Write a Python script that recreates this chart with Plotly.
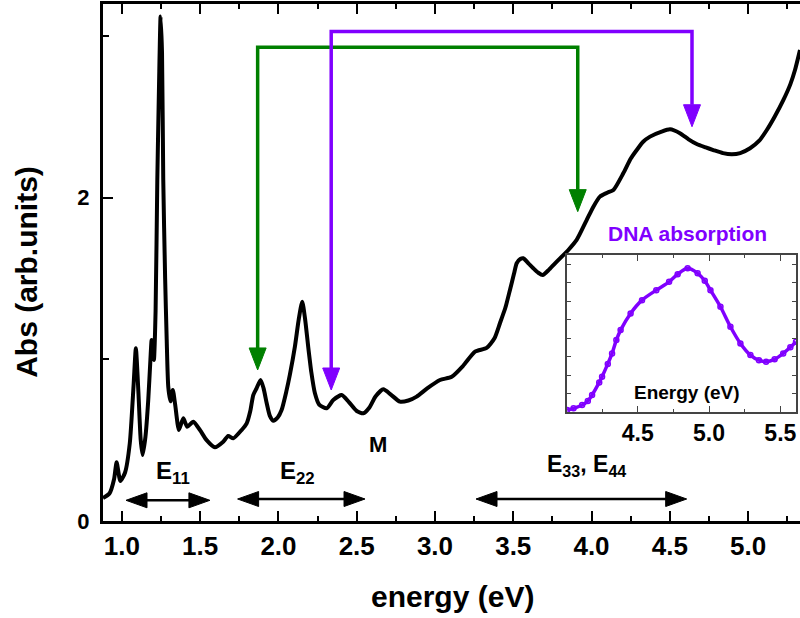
import plotly.graph_objects as go

# ---------------- data ----------------
energy = [0.879, 0.92, 0.95, 0.966, 0.99, 1.02, 1.05, 1.075, 1.089, 1.105, 1.12, 1.132,
          1.15, 1.168, 1.182, 1.19, 1.204, 1.215, 1.226, 1.237, 1.247, 1.256, 1.264,
          1.276, 1.286, 1.296, 1.31, 1.325, 1.34, 1.364, 1.392, 1.417, 1.456, 1.50,
          1.541, 1.594, 1.647, 1.679, 1.711, 1.765, 1.797, 1.82, 1.839, 1.86, 1.886,
          1.905, 1.925, 1.945, 1.967, 1.995, 2.02, 2.05, 2.073, 2.105, 2.13, 2.152,
          2.17, 2.19, 2.21, 2.233, 2.26, 2.308, 2.35, 2.404, 2.45, 2.5, 2.542, 2.58,
          2.62, 2.67, 2.72, 2.776, 2.83, 2.883, 2.95, 3.032, 3.107, 3.18, 3.256, 3.33,
          3.38, 3.415, 3.45, 3.479, 3.505, 3.522, 3.545, 3.564, 3.6, 3.628, 3.66, 3.688,
          3.73, 3.778, 3.852, 3.905, 3.969, 4.012, 4.054, 4.10, 4.14, 4.203, 4.25,
          4.289, 4.33, 4.374, 4.448, 4.502, 4.565, 4.62, 4.672, 4.73, 4.778, 4.84,
          4.896, 4.95, 5.013, 5.07, 5.12, 5.17, 5.226, 5.27, 5.3, 5.332]
absorbance = [0.142, 0.17, 0.26, 0.363, 0.247, 0.30, 0.48, 0.85, 1.068, 0.80, 0.50, 0.408,
              0.52, 0.748, 1.0, 1.12, 0.996, 1.3, 2.11, 2.7, 3.12, 2.9, 2.11,
              1.5, 1.12, 0.83, 0.74, 0.81, 0.72, 0.563, 0.635, 0.583, 0.614, 0.56,
              0.50, 0.456, 0.49, 0.526, 0.511, 0.563, 0.604, 0.68, 0.779, 0.82, 0.872,
              0.82, 0.728, 0.65, 0.62, 0.64, 0.686, 0.80, 0.905, 1.078, 1.25, 1.356,
              1.25, 1.078, 0.92, 0.79, 0.72, 0.697, 0.748, 0.779, 0.735, 0.68, 0.666, 0.70,
              0.77, 0.814, 0.78, 0.738, 0.745, 0.769, 0.82, 0.872, 0.892, 0.96, 1.047, 1.07,
              1.13, 1.223, 1.32, 1.429, 1.53, 1.594, 1.62, 1.625, 1.59, 1.563, 1.535, 1.521,
              1.556, 1.604, 1.676, 1.738, 1.861, 1.944, 2.006, 2.03, 2.047, 2.15, 2.24,
              2.294, 2.345, 2.377, 2.408, 2.422, 2.398, 2.36, 2.331, 2.31, 2.294, 2.275,
              2.268, 2.275, 2.305, 2.35, 2.418, 2.50, 2.604, 2.70, 2.789, 2.913]

dna_energy = [4.005, 4.05, 4.11, 4.15, 4.18, 4.23, 4.25, 4.29, 4.32, 4.35, 4.38, 4.45,
              4.53, 4.63, 4.72, 4.78, 4.85, 4.92, 4.97, 5.01, 5.08, 5.15, 5.22, 5.29,
              5.35, 5.40, 5.46, 5.52, 5.57, 5.61]
dna_abs = [0.108, 0.2, 0.378, 0.6, 0.92, 1.6, 1.91, 2.6, 3.17, 3.89, 4.43, 5.33,
           6.05, 6.59, 7.04, 7.45, 7.77, 7.5, 7.1, 6.59, 5.69, 4.61, 3.71, 3.08,
           2.8, 2.72, 2.85, 3.17, 3.5, 3.8]

x_tick_vals = [1.0, 1.5, 2.0, 2.5, 3.0, 3.5, 4.0, 4.5, 5.0]
x_tick_text = ["1.0", "1.5", "2.0", "2.5", "3.0", "3.5", "4.0", "4.5", "5.0"]
y_tick_vals = [0, 2]
y_tick_text = ["0", "2"]
inset_tick_vals = [4.5, 5.0, 5.5]
inset_tick_text = ["4.5", "5.0", "5.5"]

# ---------------- layout geometry ----------------
W, H = 800, 618
ML, MR, MT, MB = 103, 0, 4, 97
X0, X1 = 0.879, 5.332
Y0, Y1 = 0.0, 3.197
PW, PH = W - ML - MR, H - MT - MB
DX = (X1 - X0) / PW   # eV per pixel
DY = (Y1 - Y0) / PH   # abs units per pixel

GREEN = "#008000"
PURPLE = "#8000ff"
FONT = "Liberation Sans, Arial, sans-serif"

fig = go.Figure()

fig.add_trace(go.Scatter(
    x=energy, y=absorbance, mode="lines",
    line=dict(color="black", width=4, shape="spline", smoothing=0.6),
    showlegend=False, hoverinfo="skip"))

fig.add_trace(go.Scatter(
    x=dna_energy, y=dna_abs, mode="lines+markers", xaxis="x2", yaxis="y2",
    line=dict(color=PURPLE, width=3.5, shape="spline", smoothing=0.8),
    marker=dict(symbol="circle-open", size=5, color=PURPLE, line=dict(width=1.5)),
    showlegend=False, hoverinfo="skip"))

shapes = []


def down_arrow_head(x, ytip, color, hl=22, hw=8.5):
    return dict(type="path", xref="x", yref="y",
                path=(f"M {x - hw * DX},{ytip + hl * DY} L {x + hw * DX},{ytip + hl * DY} "
                      f"L {x},{ytip} Z"),
                fillcolor=color, line=dict(color=color, width=1))


def bracket_arrow(xa, ya, xb, yb, ytop, color):
    hl = 22
    shapes.append(dict(type="path", xref="x", yref="y",
                       path=(f"M {xa},{ya + hl * DY} L {xa},{ytop} L {xb},{ytop} "
                             f"L {xb},{yb + hl * DY}"),
                       line=dict(color=color, width=3.5)))
    shapes.append(down_arrow_head(xa, ya, color))
    shapes.append(down_arrow_head(xb, yb, color))


def double_arrow(xa, xb, y, hl=21, hw=7.5):
    shapes.append(dict(type="line", xref="x", yref="y",
                       x0=xa + hl * DX * 0.9, x1=xb - hl * DX * 0.9, y0=y, y1=y,
                       line=dict(color="black", width=2.5)))
    shapes.append(dict(type="path", xref="x", yref="y",
                       path=(f"M {xa},{y} L {xa + hl * DX},{y + hw * DY} "
                             f"L {xa + hl * DX},{y - hw * DY} Z"),
                       fillcolor="black", line=dict(color="black", width=1)))
    shapes.append(dict(type="path", xref="x", yref="y",
                       path=(f"M {xb},{y} L {xb - hl * DX},{y + hw * DY} "
                             f"L {xb - hl * DX},{y - hw * DY} Z"),
                       fillcolor="black", line=dict(color="black", width=1)))


# green and purple connector arrows
bracket_arrow(1.867, 0.934, 3.912, 1.913, 2.929, GREEN)
bracket_arrow(2.337, 0.81, 4.642, 2.438, 3.027, PURPLE)

# transition-range double arrows
double_arrow(1.026, 1.562, 0.128)
double_arrow(1.739, 2.553, 0.136)
double_arrow(3.262, 4.608, 0.136)

bold = dict(family=FONT, color="black", weight="bold")
C = dict(xanchor="center", yanchor="middle", showarrow=False)

annotations = [
    dict(x=1.323, y=0.30, xref="x", yref="y", text="E<sub>11</sub>",
         font=dict(size=24, **bold), **C),
    dict(x=2.121, y=0.30, xref="x", yref="y", text="E<sub>22</sub>",
         font=dict(size=24, **bold), **C),
    dict(x=2.636, y=0.476, xref="x", yref="y", text="M",
         font=dict(size=22, **bold), **C),
    dict(x=3.969, y=0.345, xref="x", yref="y", text="E<sub>33</sub>, E<sub>44</sub>",
         font=dict(size=23, **bold), **C),
    dict(x=0.8393, y=0.557, xref="paper", yref="paper", text="DNA absorption",
         font=dict(size=21, family=FONT, color=PURPLE, weight="bold"), **C),
    dict(x=0.8379, y=0.2476, xref="paper", yref="paper", text="Energy (eV)",
         font=dict(size=19, **bold), **C),
    dict(x=0.502, y=-0.147, xref="paper", yref="paper", text="energy (eV)",
         font=dict(size=30, **bold), **C),
    dict(x=-0.11, y=0.4826, xref="paper", yref="paper", text="Abs (arb.units)",
         textangle=-90, font=dict(size=30, **bold), **C),
]

fig.update_layout(
    width=W, height=H,
    margin=dict(l=ML, r=MR, t=MT, b=MB),
    paper_bgcolor="white", plot_bgcolor="white",
    shapes=shapes, annotations=annotations,
    xaxis=dict(range=[X0, X1], showgrid=False, zeroline=False,
               showline=True, linecolor="black", linewidth=3, mirror="ticks",
               ticks="inside", ticklen=10, tickwidth=2, tickcolor="black",
               tickvals=x_tick_vals, ticktext=x_tick_text,
               tickfont=dict(size=26, **bold),
               minor=dict(ticks="inside", dtick=0.25, tick0=1.0, ticklen=5,
                          tickwidth=2, tickcolor="black")),
    yaxis=dict(range=[Y0, Y1], showgrid=False, zeroline=False,
               showline=True, linecolor="black", linewidth=3, mirror=False,
               ticks="inside", ticklen=10, tickwidth=2, tickcolor="black",
               tickvals=y_tick_vals, ticktext=y_tick_text,
               tickfont=dict(size=22, **bold), ticklabelstandoff=6,
               minor=dict(ticks="inside", dtick=1, tick0=0, ticklen=6,
                          tickwidth=2, tickcolor="black")),
    xaxis2=dict(domain=[0.6657, 0.9943], anchor="y2", range=[4.004, 5.61],
                showgrid=False, zeroline=False, showline=True, linecolor="#444",
                linewidth=1.5, mirror="ticks", ticks="inside", ticklen=6,
                tickwidth=1, tickcolor="#444",
                tickvals=inset_tick_vals, ticktext=inset_tick_text,
                tickfont=dict(size=23, **bold),
                minor=dict(ticks="inside", dtick=0.25, tick0=4.0, ticklen=3.5,
                           tickwidth=1, tickcolor="#444")),
    yaxis2=dict(domain=[0.2108, 0.5145], anchor="x2", range=[0, 8.49],
                showgrid=False, zeroline=False, showline=True, linecolor="#444",
                linewidth=1.5, mirror="ticks", ticks="inside", ticklen=4,
                tickwidth=1, tickcolor="#444", dtick=1, tick0=0,
                showticklabels=False),
)

fig.write_html("out.html")
